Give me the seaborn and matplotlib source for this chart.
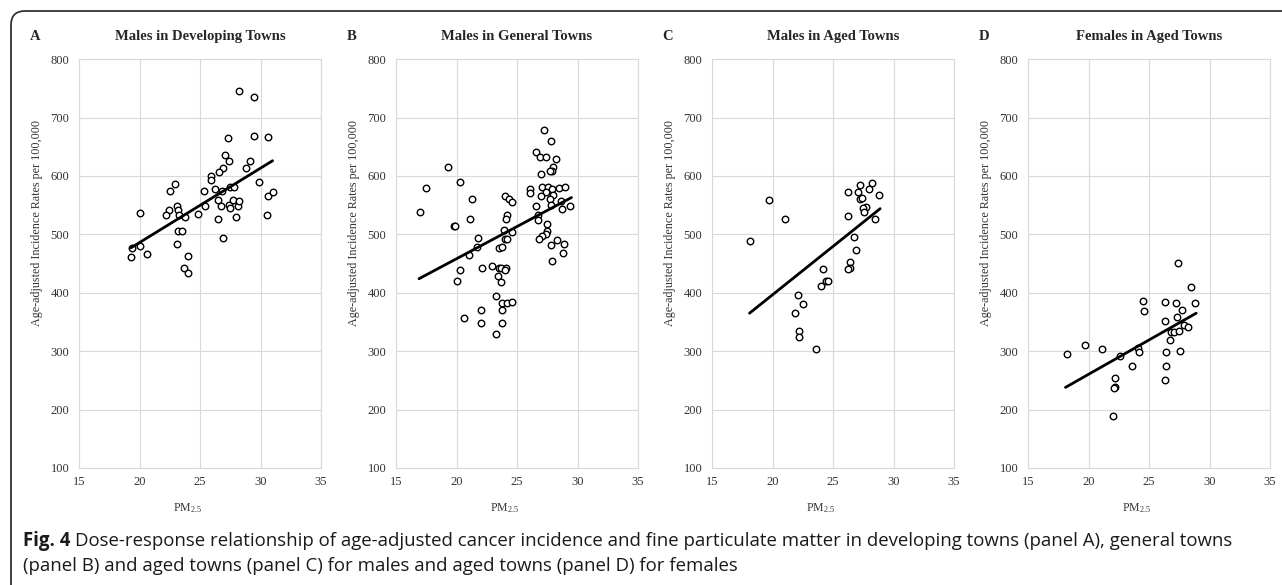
import pandas as pd
import matplotlib
matplotlib.use("Agg")
import matplotlib.pyplot as plt
from matplotlib.patches import FancyBboxPatch
from matplotlib.transforms import IdentityTransform
import seaborn as sns

# 패널 A: 개발 도시 남성
a_pm = [28.2, 29.5, 27.3, 29.5, 30.6, 27.1, 27.4, 28.8, 29.1, 26.9, 26.6, 25.9, 25.9, 29.9, 22.9,
        22.5, 25.3, 26.2, 26.8, 27.5, 27.8, 30.6, 31.0, 25.4, 23.1, 22.4, 22.2, 23.2, 23.3, 23.8,
        24.8, 26.5, 26.7, 27.4, 27.5, 27.7, 28.1, 28.2, 28.0, 26.5, 30.5, 26.9, 23.2, 23.5, 23.1,
        24.0, 23.7, 24.0, 20.6, 20.0, 20.0, 19.4, 19.3]
a_rate = [745, 735, 665, 669, 666, 636, 626, 614, 625, 613, 606, 600, 593, 590, 586,
          574, 574, 578, 575, 581, 581, 566, 573, 549, 548, 542, 533, 541, 533, 530,
          535, 558, 549, 551, 545, 558, 549, 557, 529, 526, 533, 494, 505, 505, 483,
          463, 442, 433, 466, 536, 480, 476, 462]
a_fit_pm = [19.3, 31.0]
a_fit_rate = [477, 626]

# 패널 B: 일반 도시 남성
b_pm = [27.2, 27.8, 26.6, 26.9, 27.4, 28.2, 19.3, 28.0, 27.9, 27.7, 27.0, 20.3, 17.5, 26.1, 26.1,
        27.1, 27.6, 27.9, 27.4, 28.5, 29.0, 28.0, 27.0, 27.7, 27.8, 28.6, 24.0, 24.3, 24.6, 21.3,
        17.0, 26.6, 29.4, 28.7, 24.2, 24.1, 26.7, 26.7, 21.1, 19.8, 19.9, 23.9, 24.6, 27.5, 27.5,
        27.4, 27.1, 26.8, 28.3, 28.9, 27.8, 28.8, 27.9, 24.0, 24.2, 21.8, 21.7, 23.5, 23.8, 21.0,
        22.1, 22.9, 23.5, 23.7, 24.1, 24.0, 20.3, 20.0, 23.4, 23.7, 23.3, 23.8, 24.2, 24.6, 22.0,
        23.8, 20.6, 22.0, 23.8, 23.3]
b_rate = [679, 659, 641, 632, 633, 629, 616, 615, 608, 609, 604, 589, 579, 577, 570,
          581, 581, 577, 573, 580, 581, 567, 566, 560, 551, 557, 566, 560, 556, 560,
          539, 549, 549, 543, 533, 527, 533, 524, 526, 514, 514, 508, 504, 517, 506,
          500, 497, 492, 491, 484, 482, 468, 455, 492, 492, 494, 478, 477, 479, 465,
          443, 445, 443, 443, 443, 439, 439, 420, 428, 418, 395, 383, 383, 385, 370,
          370, 357, 349, 349, 329]
b_fit_pm = [16.9, 29.5]
b_fit_rate = [424, 563]

# 패널 C: 고령 도시 남성
c_pm = [27.2, 28.2, 26.2, 27.1, 28.0, 28.8, 19.7, 27.2, 27.4, 27.7, 27.5, 27.6, 26.2, 28.5, 21.0,
        18.1, 26.7, 26.9, 26.4, 26.4, 26.2, 24.2, 24.4, 24.6, 24.0, 22.1, 22.5, 21.9, 22.2, 22.2,
        23.6]
c_rate = [585, 588, 572, 573, 578, 568, 558, 561, 563, 547, 545, 539, 532, 527, 526,
          488, 496, 473, 452, 443, 440, 440, 420, 420, 412, 397, 380, 365, 334, 324,
          303]
c_fit_pm = [18.1, 28.9]
c_fit_rate = [365, 544]

# 패널 D: 고령 도시 여성
d_pm = [27.4, 28.5, 24.5, 26.3, 27.2, 28.8, 24.6, 27.7, 27.3, 26.3, 27.9, 28.2, 26.8, 27.1, 27.5,
        26.7, 19.7, 21.1, 18.2, 24.1, 24.2, 26.4, 27.6, 22.6, 23.6, 26.4, 26.3, 22.2, 22.2, 22.1,
        22.0]
d_rate = [451, 410, 386, 384, 382, 383, 369, 370, 359, 351, 344, 342, 333, 333, 334,
          319, 310, 303, 296, 305, 299, 299, 301, 291, 274, 274, 251, 254, 239, 237,
          189]
d_fit_pm = [18.1, 28.9]
d_fit_rate = [238, 365]

letters = ["A", "B", "C", "D"]
titles = ["Males in Developing Towns", "Males in General Towns",
          "Males in Aged Towns", "Females in Aged Towns"]

sns.set_theme(style="whitegrid")
plt.rcParams['font.family'] = ['Liberation Serif', 'DejaVu Serif']
plt.rcParams['mathtext.default'] = 'regular'

W, H = 1282, 585
fig = plt.figure(figsize=(W / 100, H / 100), dpi=100)
fig.patch.set_facecolor("white")

panels = [
    (a_pm, a_rate, a_fit_pm, a_fit_rate),
    (b_pm, b_rate, b_fit_pm, b_fit_rate),
    (c_pm, c_rate, c_fit_pm, c_fit_rate),
    (d_pm, d_rate, d_fit_pm, d_fit_rate),
]
lefts = [79, 396, 712, 1028]

for i, (pm, rate, fx, fy) in enumerate(panels):
    ax = fig.add_axes([lefts[i] / W, 0.2, 242 / W, 0.699])
    df = pd.DataFrame({"pm": pm, "rate": rate})
    sns.scatterplot(data=df, x="pm", y="rate", ax=ax, s=22, color="white",
                    edgecolor="black", linewidth=1.0, zorder=3)
    fit = pd.DataFrame({"pm": fx, "rate": fy})
    sns.lineplot(data=fit, x="pm", y="rate", ax=ax, color="black", linewidth=2.0, zorder=4)

    ax.set_xlim(15, 35)
    ax.set_ylim(100, 800)
    ax.set_xticks(range(15, 36, 5))
    ax.set_yticks(range(100, 801, 100))
    ax.grid(True, color="#d9d9d9", linewidth=0.8)
    for sp in ax.spines.values():
        sp.set_color("#d9d9d9")
        sp.set_linewidth(0.8)
    ax.tick_params(axis="both", length=0, labelsize=9, labelcolor="#333333")
    ax.tick_params(axis="x", pad=6)
    ax.tick_params(axis="y", pad=7)

    ax.set_title(titles[i], fontsize=10.5, fontweight="bold", pad=14)
    ax.set_xlabel(r"PM$_{2.5}$", fontsize=8.5, x=0.447, labelpad=9, color="#333333")
    ax.set_ylabel("Age-adjusted Incidence Rates per 100,000", fontsize=8.75, y=0.6,
                  labelpad=5, color="#333333")
    fig.text((lefts[i] - 44) / W, 1 - 37 / H, letters[i], fontsize=10.5,
             fontweight="bold", ha="center", va="center")

# 그림 테두리 (왼쪽 위 둥근 모서리)
frame = FancyBboxPatch((11, -40), W + 40, H - 11 + 40,
                       boxstyle="round,pad=0,rounding_size=14",
                       transform=IdentityTransform(), fill=False,
                       edgecolor="#333333", linewidth=1.3)
fig.add_artist(frame)

# 캡션
cap_font = ['Open Sans', 'DejaVu Sans']
cap_size = 13.4
t1 = fig.text(23 / W, 1 - 541 / H, "Fig. 4", fontsize=cap_size, fontweight="bold",
              family=cap_font, va="center", ha="left", color="#1a1a1a")
renderer = fig.canvas.get_renderer()
bb = t1.get_window_extent(renderer)
fig.text((bb.x1 + 5) / W, 1 - 541 / H,
         "Dose-response relationship of age-adjusted cancer incidence and fine particulate "
         "matter in developing towns (panel A), general towns",
         fontsize=cap_size, family=cap_font, va="center", ha="left", color="#1a1a1a")
fig.text(23 / W, 1 - 566 / H,
         "(panel B) and aged towns (panel C) for males and aged towns (panel D) for females",
         fontsize=cap_size, family=cap_font, va="center", ha="left", color="#1a1a1a")

fig.savefig("out.png", dpi=100)
